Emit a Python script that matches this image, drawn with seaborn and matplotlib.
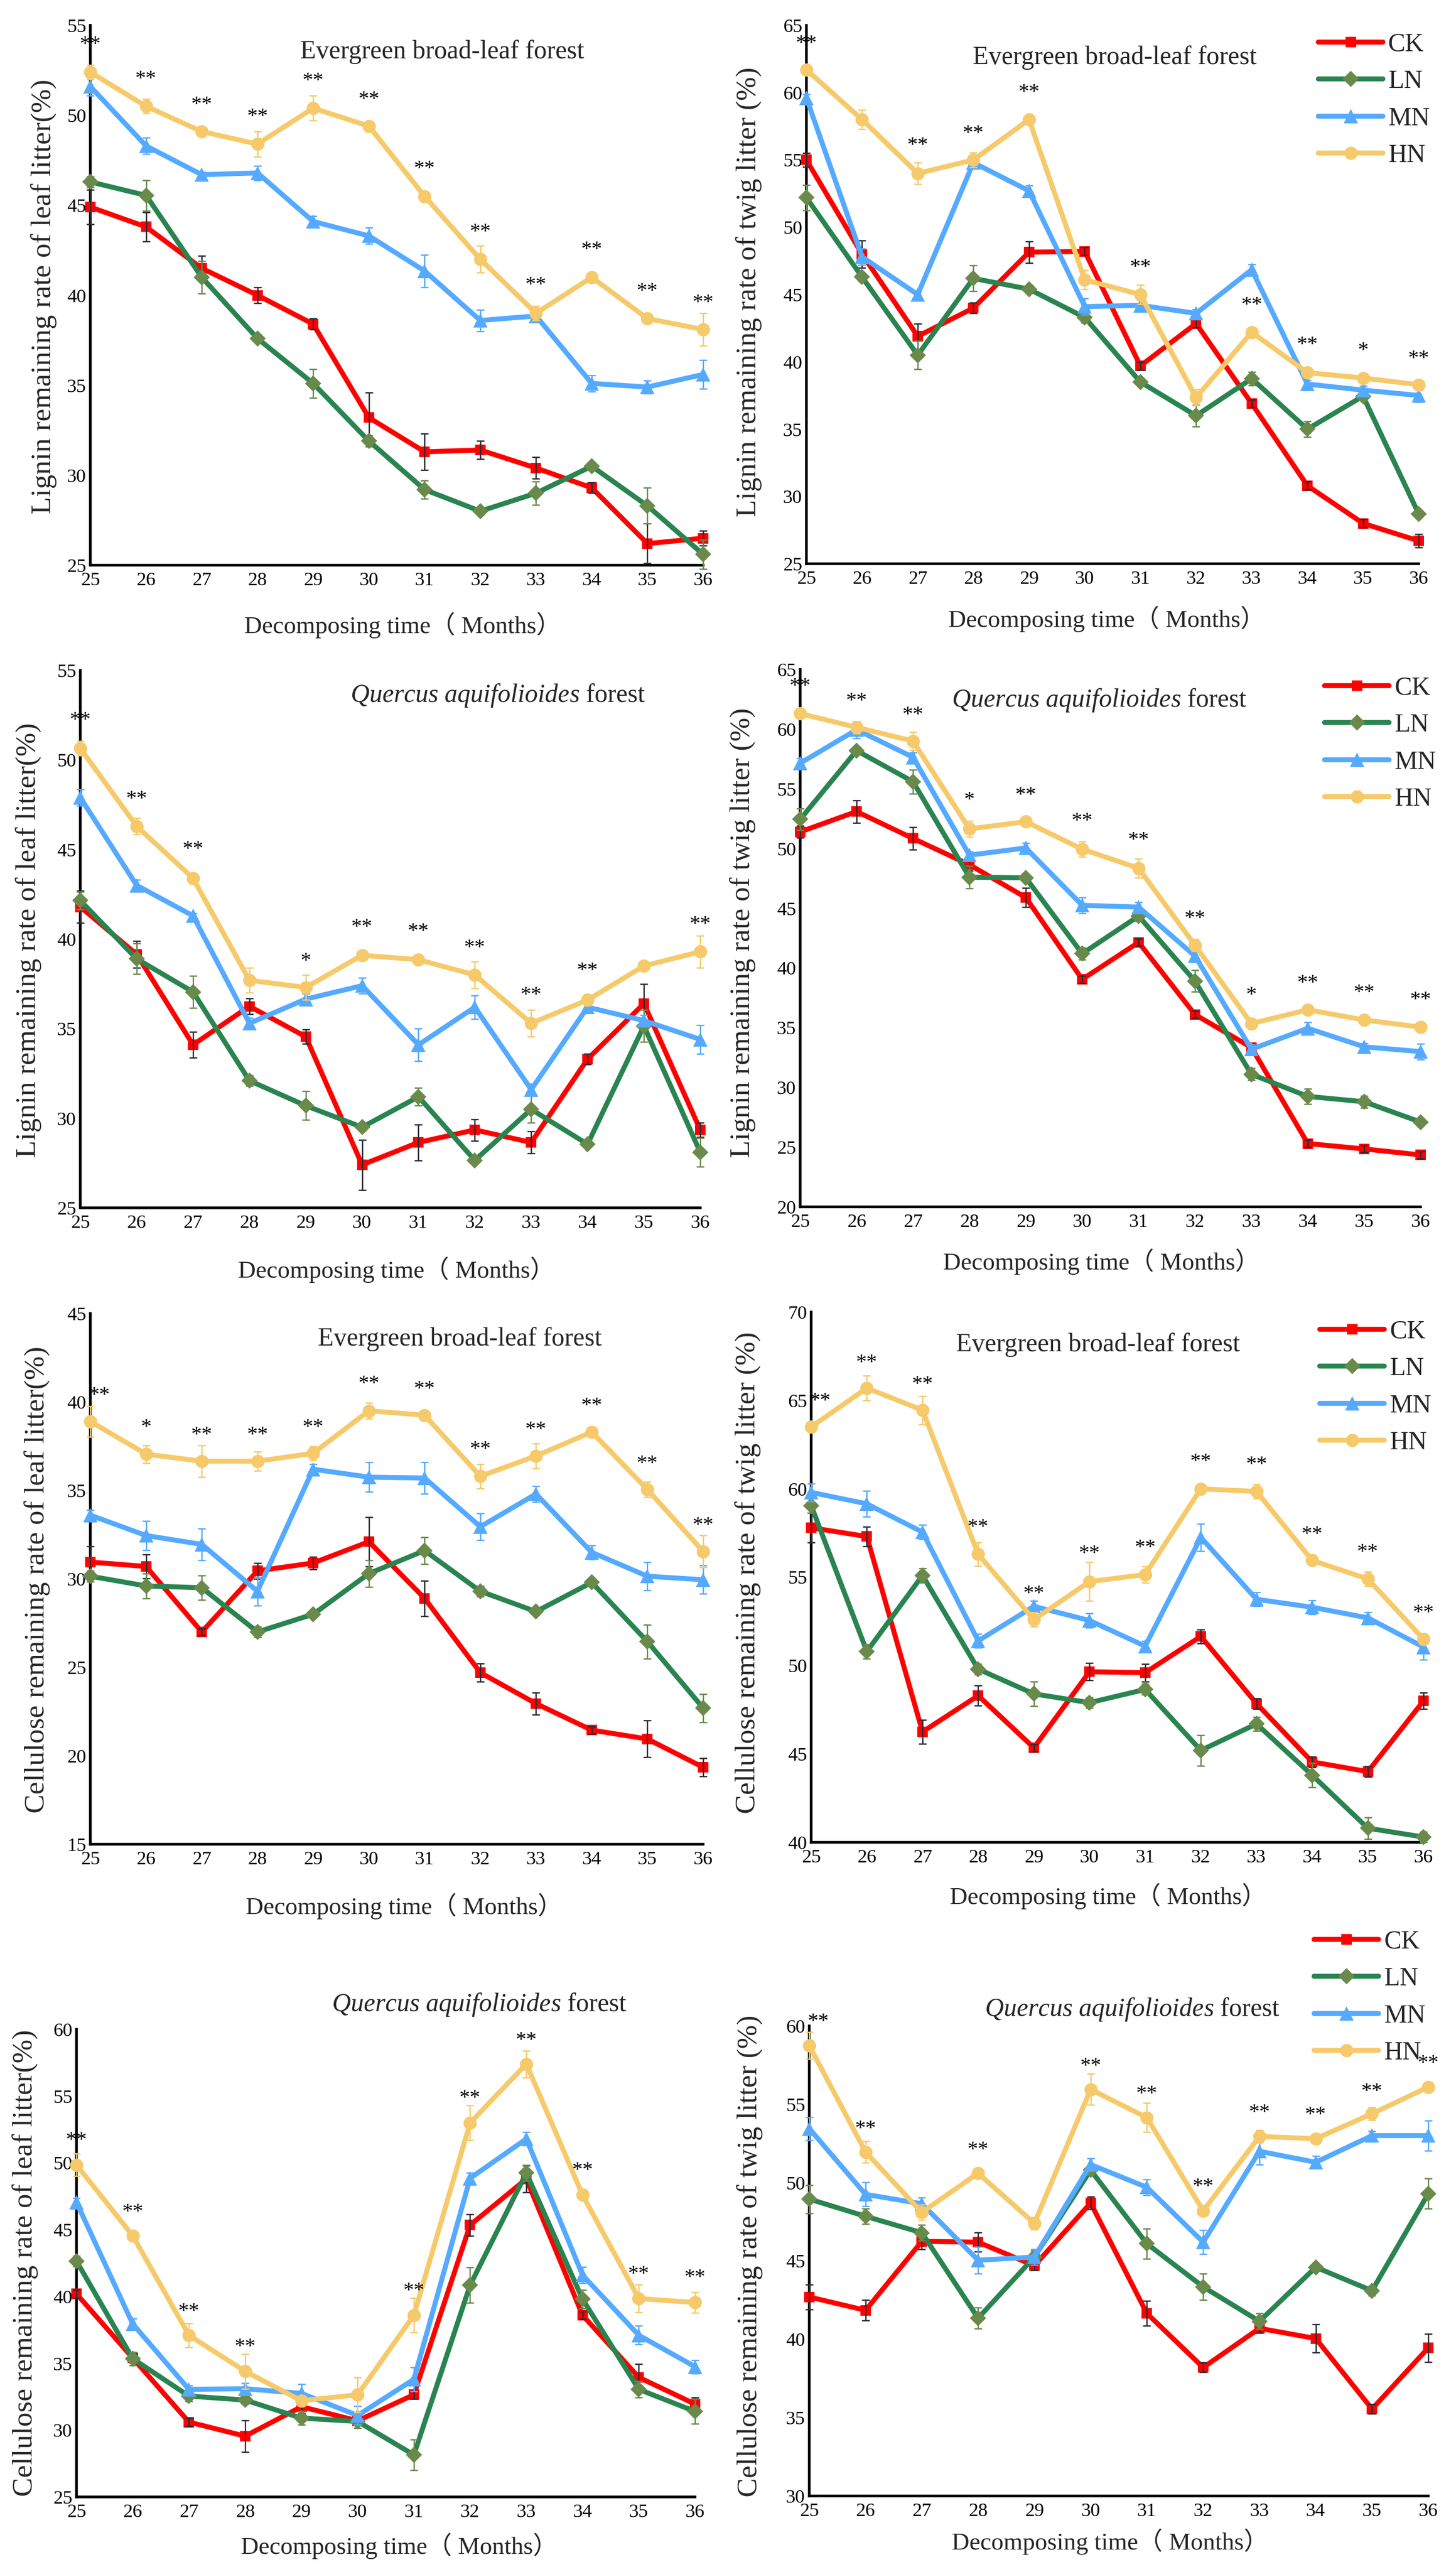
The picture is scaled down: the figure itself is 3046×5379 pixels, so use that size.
import numpy as np
import pandas as pd
import matplotlib
matplotlib.use("Agg")
import matplotlib.pyplot as plt
import seaborn as sns
from matplotlib.lines import Line2D

months = list(range(25, 37))
treatments = ['CK', 'LN', 'MN', 'HN']

# Panel 1: lignin, leaf litter, evergreen broad-leaf forest
p1_mean = {
    'CK': [44.9, 43.8, 41.5, 40.0, 38.4, 33.2, 31.3, 31.4, 30.4, 29.3, 26.2, 26.5],
    'LN': [46.3, 45.55, 41.0, 37.6, 35.1, 31.9, 29.2, 28.0, 29.0, 30.5, 28.3, 25.6],
    'MN': [51.6, 48.3, 46.7, 46.8, 44.1, 43.3, 41.35, 38.6, 38.85, 35.1, 34.9, 35.6],
    'HN': [52.4, 50.5, 49.1, 48.4, 50.4, 49.4, 45.5, 42.0, 39.0, 41.0, 38.7, 38.1],
}
p1_err = {
    'CK': [0.95, 0.8, 0.7, 0.45, 0.3, 1.4, 1.0, 0.5, 0.6, 0.3, 1.1, 0.4],
    'LN': [0.3, 0.85, 0.9, 0.2, 0.8, 0.3, 0.5, 0.2, 0.65, 0.2, 1.0, 0.8],
    'MN': [0.5, 0.45, 0.15, 0.4, 0.3, 0.45, 0.9, 0.6, 0.3, 0.45, 0.35, 0.8],
    'HN': [0.4, 0.4, 0.2, 0.7, 0.7, 0.2, 0.2, 0.75, 0.4, 0.3, 0.2, 0.9],
}
p1_stars = ['**'] * 12
p1_star_y = [53.9, 52.0, 50.55, 49.9, 51.9, 50.85, 47.0, 43.5, 40.55, 42.5, 40.2, 39.55]

# Panel 2: lignin, twig litter, evergreen broad-leaf forest
p2_mean = {
    'CK': [55.0, 48.0, 41.9, 44.0, 48.15, 48.2, 39.7, 42.85, 36.9, 30.8, 28.0, 26.7],
    'LN': [52.2, 46.3, 40.5, 46.2, 45.4, 43.3, 38.5, 36.0, 38.75, 35.0, 37.45, 28.7],
    'MN': [59.6, 47.8, 45.0, 54.8, 52.7, 44.1, 44.2, 43.6, 46.85, 38.35, 37.9, 37.5],
    'HN': [61.7, 58.0, 54.0, 55.0, 58.0, 46.1, 45.0, 37.35, 42.2, 39.2, 38.8, 38.3],
}
p2_err = {
    'CK': [0.5, 1.0, 0.95, 0.4, 0.8, 0.3, 0.3, 0.3, 0.3, 0.3, 0.3, 0.5],
    'LN': [0.95, 0.3, 1.05, 0.95, 0.3, 0.4, 0.2, 0.8, 0.5, 0.6, 0.3, 0.2],
    'MN': [0.3, 0.6, 0.2, 0.3, 0.4, 0.6, 0.4, 0.3, 0.4, 0.3, 0.3, 0.5],
    'HN': [0.3, 0.7, 0.8, 0.55, 0.2, 0.7, 0.7, 0.6, 0.3, 0.3, 0.3, 0.3],
}
p2_stars = ['**', '', '**', '**', '**', '', '**', '', '**', '**', '*', '**']
p2_star_y = [63.6, 0, 56.05, 56.95, 60.0, 0, 47.0, 0, 44.2, 41.25, 40.8, 40.2]

# Panel 3: lignin, leaf litter, Quercus aquifolioides forest
p3_mean = {
    'CK': [41.8, 39.15, 34.1, 36.25, 34.55, 27.4, 28.65, 29.35, 28.65, 33.3, 36.4, 29.35],
    'LN': [42.15, 38.9, 37.05, 32.1, 30.7, 29.5, 31.2, 27.65, 30.5, 28.55, 35.15, 28.1],
    'MN': [47.9, 43.0, 41.3, 35.3, 36.65, 37.4, 34.1, 36.2, 31.6, 36.2, 35.45, 34.4],
    'HN': [50.65, 46.3, 43.4, 37.7, 37.3, 39.1, 38.85, 38.0, 35.3, 36.6, 38.5, 39.3],
}
p3_err = {
    'CK': [0.9, 0.75, 0.72, 0.45, 0.4, 1.4, 1.0, 0.6, 0.62, 0.3, 1.1, 0.4],
    'LN': [0.5, 0.85, 0.9, 0.3, 0.8, 0.2, 0.5, 0.2, 0.75, 0.2, 0.9, 0.8],
    'MN': [0.45, 0.3, 0.15, 0.3, 0.3, 0.45, 0.9, 0.65, 0.3, 0.35, 0.3, 0.8],
    'HN': [0.4, 0.45, 0.2, 0.7, 0.7, 0.2, 0.2, 0.75, 0.75, 0.3, 0.2, 0.9],
}
p3_stars = ['**', '**', '**', '', '*', '**', '**', '**', '**', '**', '', '**']
p3_star_y = [52.2, 47.8, 45.0, 0, 38.75, 40.65, 40.4, 39.5, 36.85, 38.2, 0, 40.8]

# Panel 4: lignin, twig litter, Quercus aquifolioides forest
p4_mean = {
    'CK': [51.4, 53.1, 50.85, 48.65, 45.9, 39.05, 42.15, 36.1, 33.35, 25.3, 24.85, 24.35],
    'LN': [52.45, 58.2, 55.6, 47.6, 47.55, 41.2, 44.35, 38.9, 31.1, 29.25, 28.8, 27.1],
    'MN': [57.15, 59.95, 57.65, 49.45, 50.05, 45.25, 45.1, 41.0, 33.2, 34.95, 33.4, 33.0],
    'HN': [61.3, 60.15, 59.0, 51.65, 52.25, 49.95, 48.35, 41.9, 35.35, 36.5, 35.65, 35.05],
}
p4_err = {
    'CK': [0.5, 0.95, 0.95, 0.5, 0.8, 0.3, 0.3, 0.3, 0.3, 0.3, 0.3, 0.3],
    'LN': [0.9, 0.3, 1.0, 0.95, 0.3, 0.5, 0.4, 0.9, 0.5, 0.65, 0.5, 0.3],
    'MN': [0.4, 0.7, 0.4, 0.3, 0.4, 0.65, 0.4, 0.4, 0.4, 0.5, 0.3, 0.65],
    'HN': [0.3, 0.5, 0.75, 0.65, 0.3, 0.65, 0.8, 0.5, 0.3, 0.3, 0.3, 0.3],
}
p4_stars = ['**', '**', '**', '*', '**', '**', '**', '**', '*', '**', '**', '**']
p4_star_y = [63.55, 62.3, 61.15, 54.05, 54.45, 52.25, 50.65, 44.1, 37.7, 38.7, 37.9, 37.3]

# Panel 5: cellulose, leaf litter, evergreen broad-leaf forest
p5_mean = {
    'CK': [30.95, 30.7, 27.0, 30.45, 30.9, 32.1, 28.9, 24.7, 22.95, 21.45, 20.95, 19.35],
    'LN': [30.15, 29.6, 29.5, 27.0, 28.0, 30.3, 31.6, 29.3, 28.15, 29.8, 26.45, 22.7],
    'MN': [33.6, 32.45, 31.95, 29.3, 36.2, 35.75, 35.7, 32.95, 34.8, 31.5, 30.15, 29.95],
    'HN': [38.9, 37.05, 36.65, 36.65, 37.1, 39.5, 39.25, 35.8, 36.95, 38.3, 35.05, 31.55],
}
p5_err = {
    'CK': [0.9, 0.68, 0.2, 0.44, 0.35, 1.4, 1.0, 0.52, 0.63, 0.2, 1.04, 0.52],
    'LN': [0.3, 0.7, 0.7, 0.3, 0.2, 0.75, 0.75, 0.3, 0.2, 0.2, 0.95, 0.8],
    'MN': [0.3, 0.82, 0.9, 0.8, 0.3, 0.84, 0.9, 0.75, 0.44, 0.4, 0.8, 0.8],
    'HN': [0.87, 0.5, 0.9, 0.55, 0.4, 0.45, 0.2, 0.7, 0.7, 0.2, 0.43, 0.9],
}
p5_stars = ['**', '*', '**', '**', '**', '**', '**', '**', '**', '**', '**', '**']
p5_star_y = [40.35, 38.55, 38.1, 38.1, 38.55, 41.0, 40.7, 37.3, 38.4, 39.75, 36.5, 33.0]

# Panel 6: cellulose, twig litter, evergreen broad-leaf forest
p6_mean = {
    'CK': [57.8, 57.3, 46.25, 48.3, 45.35, 49.65, 49.6, 51.65, 47.85, 44.55, 44.0, 48.0],
    'LN': [59.05, 50.8, 55.1, 49.8, 48.4, 47.9, 48.65, 45.2, 46.7, 43.8, 40.8, 40.3],
    'MN': [59.8, 59.15, 57.55, 51.4, 53.35, 52.55, 51.1, 57.25, 53.75, 53.3, 52.7, 51.05],
    'HN': [63.5, 65.7, 64.45, 56.3, 52.6, 54.75, 55.15, 60.0, 59.85, 55.95, 54.9, 51.5],
}
p6_err = {
    'CK': [0.83, 0.55, 0.67, 0.57, 0.2, 0.49, 0.5, 0.4, 0.3, 0.3, 0.3, 0.46],
    'LN': [0.4, 0.4, 0.4, 0.3, 0.7, 0.3, 0.3, 0.87, 0.4, 0.7, 0.6, 0.3],
    'MN': [0.5, 0.72, 0.4, 0.4, 0.3, 0.4, 0.3, 0.77, 0.4, 0.4, 0.3, 0.72],
    'HN': [0.3, 0.7, 0.8, 0.67, 0.4, 1.1, 0.46, 0.2, 0.4, 0.2, 0.4, 0.3],
}
p6_stars = ['**'] * 12
p6_star_y = [64.95, 67.1, 65.9, 57.8, 54.05, 56.3, 56.65, 61.5, 61.35, 57.4, 56.4, 52.95]

# Panel 7: cellulose, leaf litter, Quercus aquifolioides forest
p7_mean = {
    'CK': [40.2, 35.4, 30.6, 29.55, 31.75, 30.7, 32.65, 45.35, 48.8, 38.6, 33.95, 31.95],
    'LN': [42.65, 35.35, 32.55, 32.25, 30.9, 30.65, 28.15, 40.85, 49.25, 39.8, 33.05, 31.4],
    'MN': [47.05, 37.95, 33.05, 33.1, 32.75, 31.1, 33.8, 48.85, 51.8, 41.6, 37.1, 34.75],
    'HN': [49.85, 44.55, 37.1, 34.4, 32.2, 32.65, 38.6, 53.0, 57.4, 47.6, 39.85, 39.55],
}
p7_err = {
    'CK': [0.3, 0.3, 0.3, 1.19, 0.5, 0.3, 0.3, 0.8, 1.0, 0.3, 1.0, 0.5],
    'LN': [0.4, 0.5, 0.4, 0.3, 0.5, 0.5, 1.16, 1.33, 0.6, 0.7, 0.6, 0.93],
    'MN': [0.3, 0.4, 0.3, 0.4, 0.7, 0.7, 0.9, 0.4, 0.5, 0.6, 0.7, 0.5],
    'HN': [0.84, 0.3, 0.9, 1.3, 0.3, 1.3, 1.3, 1.3, 1.0, 0.3, 1.04, 0.78],
}
p7_stars = ['**', '**', '**', '**', '', '', '**', '**', '**', '**', '**', '**']
p7_star_y = [51.65, 46.3, 38.85, 36.2, 0, 0, 40.4, 54.8, 59.15, 49.4, 41.65, 41.4]

# Panel 8: cellulose, twig litter, Quercus aquifolioides forest
p8_mean = {
    'CK': [42.7, 41.85, 46.25, 46.2, 44.7, 48.7, 41.65, 38.2, 40.7, 40.05, 35.55, 39.45],
    'LN': [48.95, 47.85, 46.8, 41.35, 45.25, 50.8, 46.1, 43.35, 41.15, 44.6, 43.1, 49.3],
    'MN': [53.45, 49.25, 48.65, 45.05, 45.25, 51.15, 49.7, 46.2, 52.0, 51.3, 53.0, 53.0],
    'HN': [58.75, 51.95, 48.1, 50.6, 47.4, 55.95, 54.15, 48.2, 52.95, 52.8, 54.4, 56.1],
}
p8_err = {
    'CK': [0.79, 0.66, 0.5, 0.62, 0.3, 0.4, 0.79, 0.3, 0.3, 0.9, 0.3, 0.89],
    'LN': [0.9, 0.5, 0.5, 0.66, 0.4, 0.3, 0.95, 0.85, 0.5, 0.2, 0.3, 0.95],
    'MN': [0.73, 0.77, 0.4, 0.86, 0.5, 0.4, 0.5, 0.77, 0.86, 0.4, 0.3, 0.96],
    'HN': [0.86, 0.69, 0.5, 0.3, 0.4, 0.99, 0.94, 0.3, 0.4, 0.2, 0.4, 0.2],
}
p8_stars = ['**', '**', '', '**', '', '**', '**', '**', '**', '**', '**', '**']
p8_star_y = [60.25, 53.4, 0, 52.05, 0, 57.4, 55.65, 49.7, 54.45, 54.3, 55.8, 57.6]

ebf = 'Evergreen broad-leaf forest'
qaf = r'$\mathit{Quercus\ aquifolioides}$ forest'
xlab = 'Decomposing time（ Months）'

panels = [
    dict(mean=p1_mean, err=p1_err, stars=p1_stars, star_y=p1_star_y, ylim=(25, 55), title=ebf,
         ylabel='Lignin remaining rate of leaf litter(%)'),
    dict(mean=p2_mean, err=p2_err, stars=p2_stars, star_y=p2_star_y, ylim=(25, 65), title=ebf,
         ylabel='Lignin remaining rate of twig litter (%)'),
    dict(mean=p3_mean, err=p3_err, stars=p3_stars, star_y=p3_star_y, ylim=(25, 55), title=qaf,
         ylabel='Lignin remaining rate of leaf litter(%)'),
    dict(mean=p4_mean, err=p4_err, stars=p4_stars, star_y=p4_star_y, ylim=(20, 65), title=qaf,
         ylabel='Lignin remaining rate of twig litter (%)'),
    dict(mean=p5_mean, err=p5_err, stars=p5_stars, star_y=p5_star_y, ylim=(15, 45), title=ebf,
         ylabel='Cellulose remaining rate of leaf litter(%)'),
    dict(mean=p6_mean, err=p6_err, stars=p6_stars, star_y=p6_star_y, ylim=(40, 70), title=ebf,
         ylabel='Cellulose remaining rate of twig litter (%)'),
    dict(mean=p7_mean, err=p7_err, stars=p7_stars, star_y=p7_star_y, ylim=(25, 60), title=qaf,
         ylabel='Cellulose remaining rate of leaf litter(%)'),
    dict(mean=p8_mean, err=p8_err, stars=p8_stars, star_y=p8_star_y, ylim=(30, 60), title=qaf,
         ylabel='Cellulose remaining rate of twig litter (%)'),
]

# layout in pixels of the 3046x5379 canvas: axes box (left, right, top, bottom)
boxes = [(189, 1471, 53, 1182), (1687, 2968, 53, 1179),
         (168, 1465, 1402, 2526), (1674, 2972, 1400, 2524),
         (189, 1471, 2747, 3857), (1697, 2978, 2744, 3853),
         (160, 1454, 4244, 5222), (1693, 2988, 4237, 5220)]
title_pos = [(925, 109), (2332, 120), (1042, 1455), (2300, 1464),
             (962, 2800), (2297, 2812), (1003, 4193), (2369, 4202)]
xlab_pos = [(842, 1308), (2315, 1295), (829, 2656), (2304, 2639),
            (845, 3987), (2318, 3966), (835, 5325), (2322, 5316)]
ylab_pos = [(92, 620), (1567, 611), (60, 1966), (1554, 1951),
            (78, 3304), (1564, 3289), (53, 4733), (1569, 4718)]
legend_pos = {1: (2758, 68), 3: (2771, 1414), 5: (2761, 2760), 7: (2749, 4036)}
# first-month stars that sit beside a y tick label get nudged right (points)
star0_dx = {4: 14, 5: 14, 7: 14}

line_colors = {'CK': '#ff0000', 'LN': '#2a8450', 'MN': '#55aaff', 'HN': '#f6ca6b'}
marker_colors = {'CK': '#ff0000', 'LN': '#6a8a4c', 'MN': '#55aaff', 'HN': '#f6ca6b'}
err_colors = {'CK': '#2b2b38', 'LN': '#6a8a4c', 'MN': '#55aaff', 'HN': '#f6ca6b'}
markers = {'CK': 's', 'LN': 'D', 'MN': '^', 'HN': 'o'}
msizes = {'CK': 16, 'LN': 17, 'MN': 21, 'HN': 20}

W, H = 3046, 5379

sns.set_theme(style='white')
plt.rcParams['font.family'] = ['Liberation Serif', 'Noto Sans CJK SC', 'DejaVu Sans']
plt.rcParams['mathtext.fontset'] = 'custom'
plt.rcParams['mathtext.rm'] = 'Liberation Serif'
plt.rcParams['mathtext.it'] = 'Liberation Serif:italic'

fig = plt.figure(figsize=(W / 100, H / 100), dpi=100)
fig.patch.set_facecolor('white')

for i, p in enumerate(panels):
    l, r, t, b = boxes[i]
    ax = fig.add_axes([l / W, 1 - b / H, (r - l) / W, (b - t) / H])
    ax.set_facecolor('white')

    df = pd.DataFrame({
        'month': months * 4,
        'value': sum([p['mean'][k] for k in treatments], []),
        'treatment': sum([[k] * 12 for k in treatments], []),
    })
    for z, k in enumerate(treatments):
        sub = df[df['treatment'] == k]
        sns.lineplot(data=sub, x='month', y='value', ax=ax, color=line_colors[k],
                     linewidth=7.5, marker=markers[k], markersize=msizes[k],
                     markerfacecolor=marker_colors[k], markeredgecolor=marker_colors[k],
                     markeredgewidth=0, errorbar=None, legend=False, clip_on=False,
                     zorder=3 + z)
        ax.errorbar(months, p['mean'][k], yerr=p['err'][k], fmt='none',
                    ecolor=err_colors[k], elinewidth=2, capsize=6, capthick=2,
                    zorder=3.5 + z, clip_on=False)

    for j, (m, s, y) in enumerate(zip(months, p['stars'], p['star_y'])):
        if s:
            dx = star0_dx.get(i, 0) if j == 0 else 0
            ax.annotate(s, xy=(m, y), xytext=(dx, 0), textcoords='offset points',
                        ha='center', va='center', fontsize=32, color='black',
                        zorder=10, annotation_clip=False)

    lo, hi = p['ylim']
    ax.set_xlim(25, 36)
    ax.set_ylim(lo, hi)
    ax.set_xticks(months)
    ax.set_yticks(np.arange(lo, hi + 1, 5))
    ax.set_xlabel('')
    ax.set_ylabel('')
    sns.despine(ax=ax)
    for sp in ['left', 'bottom']:
        ax.spines[sp].set_linewidth(4)
        ax.spines[sp].set_color('black')
    ax.tick_params(axis='both', direction='in', length=13, width=3.5, labelsize=29,
                   colors='black', pad=10)
    ax.tick_params(axis='y', pad=6)

    tx, ty = title_pos[i]
    fig.text(tx / W, 1 - ty / H, p['title'], ha='center', va='center', fontsize=39)
    xx, xy = xlab_pos[i]
    fig.text(xx / W, 1 - xy / H, xlab, ha='center', va='center', fontsize=37)
    yx, yy = ylab_pos[i]
    fig.text(yx / W, 1 - yy / H, p['ylabel'], ha='center', va='center', fontsize=43,
             rotation=90)

    if i in legend_pos:
        handles = [Line2D([0], [0], color=line_colors[k], lw=7.5, marker=markers[k],
                          markersize=msizes[k], markerfacecolor=marker_colors[k],
                          markeredgecolor=marker_colors[k], markeredgewidth=0)
                   for k in treatments]
        lx, ly = legend_pos[i]
        fig.legend(handles, treatments, loc='upper left',
                   bbox_to_anchor=(lx / W, 1 - ly / H), frameon=False, fontsize=39,
                   handlelength=2.5, handletextpad=0.2, labelspacing=0.5,
                   borderpad=0, borderaxespad=0)

fig.savefig('out.png', dpi=100, facecolor='white')
